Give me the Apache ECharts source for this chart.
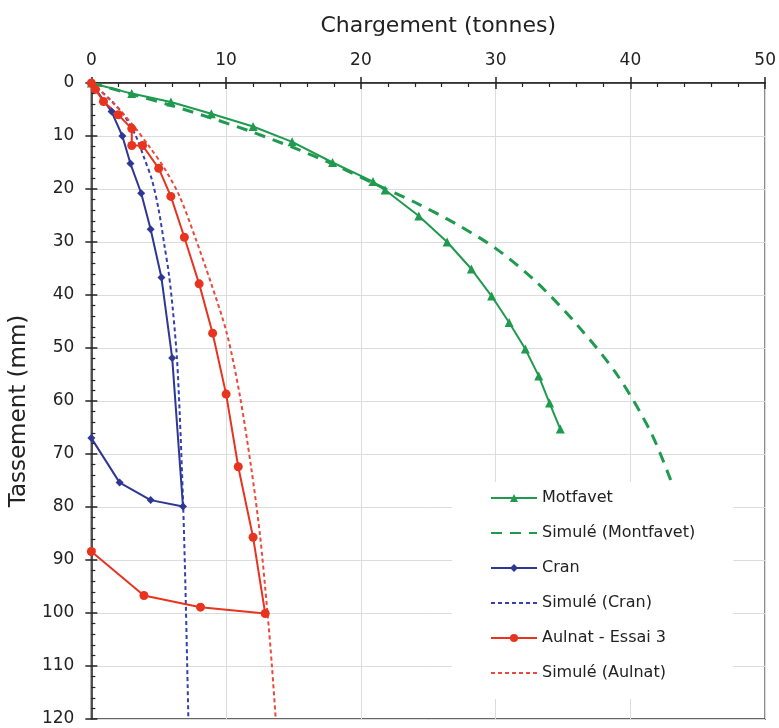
<!DOCTYPE html>
<html>
<head>
<meta charset="utf-8">
<script src="https://cdn.jsdelivr.net/npm/echarts@6/dist/echarts.min.js"></script>
<style>
html,body{margin:0;padding:0;background:#fff;}
#chart{width:779px;height:728px;}
</style>
</head>
<body>
<div id="chart"></div>
<script>
// X: Chargement (tonnes), Y: Tassement (mm)
const xTicks = [0, 10, 20, 30, 40, 50];
const yTicks = [0, 10, 20, 30, 40, 50, 60, 70, 80, 90, 100, 110, 120];

const motfavetLoad = [0, 3.0, 5.9, 8.9, 12.0, 14.9, 17.9, 20.9, 21.8, 24.3, 26.4, 28.2, 29.7, 31.0, 32.2, 33.2, 34.0, 34.8];
const motfavetSettle = [0, 2.0, 3.6, 5.8, 8.2, 11.1, 15.0, 18.6, 20.2, 25.1, 30.0, 35.1, 40.2, 45.2, 50.2, 55.3, 60.4, 65.3];

const simMontLoad = [0, 3, 6, 9, 12, 15, 18, 21, 24, 27, 30, 33, 36, 39, 41.5, 43];
const simMontSettle = [0, 2.1, 4.3, 6.7, 9.3, 12.2, 15.4, 19, 22.5, 26.5, 31.2, 37.5, 45.5, 55, 65.8, 75];

const cranLoad = [0, 1.5, 2.3, 2.9, 3.7, 4.4, 5.2, 6.0, 6.8, 4.4, 2.1, 0];
const cranSettle = [0, 5.4, 10, 15.2, 20.8, 27.6, 36.7, 51.9, 79.9, 78.7, 75.4, 67];

const simCranLoad = [0, 1.35, 2.4, 3.3, 3.9, 4.5, 5.0, 5.42, 5.75, 6.05, 6.35, 6.55, 6.8, 6.98, 7.2];
const simCranSettle = [0, 3, 6, 10, 14, 18.3, 24, 30.6, 36, 42.8, 51.9, 62, 78.7, 95, 120];

const aulnatLoad = [0, 0.3, 0.9, 2.0, 3.0, 3.0, 3.8, 5.0, 5.9, 6.9, 8.0, 9.0, 10.0, 10.9, 12.0, 12.9, 8.1, 3.9, 0];
const aulnatSettle = [0, 1.2, 3.5, 6.0, 8.6, 11.8, 11.8, 16.1, 21.4, 29.1, 37.9, 47.2, 58.7, 72.4, 85.7, 100.1, 98.9, 96.7, 88.4];

const simAulLoad = [0, 1.7, 3.1, 4.3, 5.4, 6.55, 7.7, 8.9, 10.05, 11.0, 11.85, 12.5, 13.07, 13.4, 13.68];
const simAulSettle = [0, 4, 8, 12, 16, 21.4, 29.1, 37.9, 47.2, 58.7, 72.4, 85, 100, 110, 120];

const names = ['Motfavet', 'Simulé (Montfavet)', 'Cran', 'Simulé (Cran)', 'Aulnat - Essai 3', 'Simulé (Aulnat)'];
const simulated = [false, true, false, true, false, true];

function pairs(xs, ys) { return xs.map((x, i) => [x, ys[i]]); }

const GREEN = '#1f9a4e', BLUE = '#2f3795', BLUE_D = '#3540ad', RED = '#e8341f', RED_D = '#ea4a3c';
const FONT = 'DejaVu Sans, sans-serif';

const chart = echarts.init(document.getElementById('chart'), null, {renderer: 'canvas'});
chart.setOption({
  animation: false,
  backgroundColor: '#fff',
  textStyle: {fontFamily: FONT},
  grid: {left: 90, top: 83, right: 13, bottom: 9, show: true, borderColor: '#333', borderWidth: 1.5, backgroundColor: 'transparent'},
  legend: {
    orient: 'vertical', left: 452, top: 482,
    padding: [8, 38, 18, 38],
    backgroundColor: '#fff',
    itemWidth: 46, itemHeight: 10, itemGap: 19,
    textStyle: {fontSize: 16, color: '#222', fontFamily: FONT},
    data: names.map((n, i) => simulated[i] ? {name: n, itemStyle: {opacity: 0}} : {name: n})
  },
  xAxis: [{
    type: 'value', position: 'top', min: xTicks[0], max: xTicks[xTicks.length - 1], interval: 10,
    name: 'Chargement (tonnes)', nameLocation: 'middle', nameGap: 46,
    nameTextStyle: {fontSize: 22, color: '#222', padding: [0, 0, 0, 20]},
    axisLine: {show: true, lineStyle: {color: '#222', width: 1.5}},
    axisTick: {show: true, inside: true, length: 6, lineStyle: {color: '#222', width: 1.5}},
    minorTick: {show: true, splitNumber: 5, length: 4, lineStyle: {color: '#222', width: 1.2}},
    axisLabel: {fontSize: 17, color: '#222', margin: 14},
    splitLine: {show: true, lineStyle: {color: '#dcdcdc', width: 1}}
  }, {
    type: 'value', position: 'top', min: 0, max: 50, interval: 10,
    axisLine: {show: false}, axisLabel: {show: false}, splitLine: {show: false},
    axisTick: {show: true, inside: false, length: 6, lineStyle: {color: '#222', width: 1.5}}
  }],
  yAxis: [{
    type: 'value', inverse: true, min: yTicks[0], max: yTicks[yTicks.length - 1], interval: 10,
    name: 'Tassement (mm)', nameLocation: 'middle', nameGap: 58, nameRotate: 90,
    nameTextStyle: {fontSize: 23, color: '#222', padding: [0, 20, 0, 0]},
    axisLine: {show: true, lineStyle: {color: '#222', width: 1.5}},
    axisTick: {show: true, inside: true, length: 6, lineStyle: {color: '#222', width: 1.5}},
    minorTick: {show: true, splitNumber: 5, length: 4, lineStyle: {color: '#222', width: 1.2}},
    axisLabel: {fontSize: 17, color: '#222', margin: 17},
    splitLine: {show: true, lineStyle: {color: '#dcdcdc', width: 1}}
  }, {
    type: 'value', inverse: true, min: 0, max: 120, interval: 10, position: 'left',
    axisLine: {show: false}, axisLabel: {show: false}, splitLine: {show: false},
    axisTick: {show: true, inside: false, length: 6, lineStyle: {color: '#222', width: 1.5}}
  }],
  series: [
    {name: names[0], type: 'line', data: pairs(motfavetLoad, motfavetSettle),
     symbol: 'triangle', symbolSize: 9, itemStyle: {color: GREEN}, lineStyle: {color: GREEN, width: 2}, z: 5},
    {name: names[1], type: 'line', data: pairs(simMontLoad, simMontSettle), smooth: 0.3,
     symbol: 'circle', showSymbol: false, itemStyle: {color: GREEN}, lineStyle: {color: GREEN, width: 3, type: [11, 8]}, z: 4},
    {name: names[2], type: 'line', data: pairs(cranLoad, cranSettle),
     symbol: 'diamond', symbolSize: 8, itemStyle: {color: BLUE}, lineStyle: {color: BLUE, width: 2}, z: 5},
    {name: names[3], type: 'line', data: pairs(simCranLoad, simCranSettle), smooth: 0.3,
     symbol: 'circle', showSymbol: false, itemStyle: {color: BLUE_D}, lineStyle: {color: BLUE_D, width: 2, type: [4, 3]}, z: 4},
    {name: names[4], type: 'line', data: pairs(aulnatLoad, aulnatSettle),
     symbol: 'circle', symbolSize: 9, itemStyle: {color: RED}, lineStyle: {color: RED, width: 2}, z: 5},
    {name: names[5], type: 'line', data: pairs(simAulLoad, simAulSettle), smooth: 0.3,
     symbol: 'circle', showSymbol: false, itemStyle: {color: RED_D}, lineStyle: {color: RED_D, width: 2, type: [4, 3]}, z: 4}
  ]
});
</script>
</body>
</html>
